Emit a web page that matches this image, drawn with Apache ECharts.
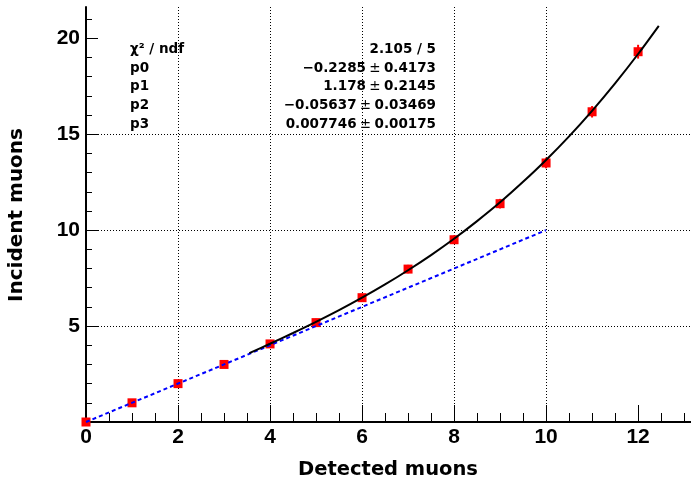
<!DOCTYPE html>
<html>
<head>
<meta charset="utf-8">
<script src="https://cdn.jsdelivr.net/npm/echarts@6/dist/echarts.min.js"></script>
<style>html,body{margin:0;padding:0;background:#fff;}#c{width:691px;height:481px;}</style>
</head>
<body>
<div id="c"></div>
<script>
// ---- data ----
const detected = [0, 1, 2, 3, 4, 5, 6, 7, 8, 9, 10, 11, 12];
const incident = [0, 1.0, 2.0, 3.0, 4.07, 5.18, 6.48, 7.97, 9.5, 11.38, 13.5, 16.17, 19.3];
const incidentErr = [0.1, 0.12, 0.15, 0.15, 0.18, 0.2, 0.2, 0.22, 0.22, 0.25, 0.28, 0.3, 0.36];
const fitX = [3.55, 4, 4.5, 5, 5.5, 6, 6.5, 7, 7.5, 8, 8.5, 9, 9.5, 10, 10.5, 11, 11.5, 12, 12.45];
const fitY = [3.59, 4.08, 4.64, 5.22, 5.83, 6.48, 7.17, 7.91, 8.70, 9.55, 10.47, 11.45, 12.52, 13.66, 14.89, 16.22, 17.65, 19.18, 20.65];
const refLineX = [0, 10];
const refLineY = [0, 10];
const xTickLabels = [0, 2, 4, 6, 8, 10, 12];
const yTickLabels = [5, 10, 15, 20];
const xMajorTicks = [0, 2, 4, 6, 8, 10, 12];
const xMinorTicks = [0, 0.5, 1, 1.5, 2, 2.5, 3, 3.5, 4, 4.5, 5, 5.5, 6, 6.5, 7, 7.5, 8, 8.5, 9, 9.5, 10, 10.5, 11, 11.5, 12, 12.5, 13];
const yMajorTicks = [0, 5, 10, 15, 20];
const yMinorTicks = [0, 1, 2, 3, 4, 5, 6, 7, 8, 9, 10, 11, 12, 13, 14, 15, 16, 17, 18, 19, 20, 21];
const statNames = ['χ² / ndf', 'p0', 'p1', 'p2', 'p3'];
const statValues = ['2.105 / 5', '−0.2285', '1.178', '−0.05637', '0.007746'];
const statErrors = ['', '0.4173', '0.2145', '0.03469', '0.00175'];
const xTitle = 'Detected muons';
const yTitle = 'Incident muons';

const XMAX = 13.15, YMAX = 21.63;

const chart = echarts.init(document.getElementById('c'), null, {renderer: 'canvas'});

const tickFont = {fontSize: 21, fontWeight: 'bold', fontFamily: 'Liberation Sans', color: '#000'};
const gridLine = {show: true, showMaxLine: false, lineStyle: {type: [1, 2], color: '#000', width: 1}};

const graphics = [];
graphics.push({type: 'text', x: 388, y: 470, style: {text: xTitle, font: 'bold 19.5px "DejaVu Sans"', fill: '#000', align: 'center', verticalAlign: 'middle'}});
graphics.push({type: 'text', x: 17, y: 215, rotation: Math.PI / 2, style: {text: yTitle, font: 'bold 20px "DejaVu Sans"', fill: '#000', align: 'center', verticalAlign: 'middle'}});
const rowY0 = 49.3, rowDy = 18.75;
statNames.forEach((n, i) => {
  graphics.push({type: 'text', x: 130, y: rowY0 + i * rowDy, style: {text: n, font: 'bold 13.5px "DejaVu Sans"', fill: '#000', align: 'left', verticalAlign: 'middle'}});
  const txt = statErrors[i] ? '{b|' + statValues[i] + '} {pm|±} {b|' + statErrors[i] + '}' : '{b|' + statValues[i] + '}';
  graphics.push({type: 'text', x: 436, y: rowY0 + i * rowDy, style: {text: txt, align: 'right', verticalAlign: 'middle',
    rich: {b: {font: 'bold 13.5px "DejaVu Sans"', fill: '#000'}, pm: {font: '13.5px "DejaVu Sans"', fill: '#000'}}}});
});

const option = {
  animation: false,
  backgroundColor: '#fff',
  grid: {left: 86, right: 0, top: 7, bottom: 59, containLabel: false},
  xAxis: [
    {type: 'value', min: 0, max: XMAX, interval: 2, position: 'bottom',
     axisLine: {show: true, onZero: false, lineStyle: {color: '#000', width: 2}},
     axisTick: {show: true, inside: true, length: 17, customValues: xMajorTicks, lineStyle: {color: '#000', width: 1}},
     axisLabel: Object.assign({margin: 5, customValues: xTickLabels, formatter: v => xTickLabels.includes(v) ? String(v) : ''}, tickFont),
     splitLine: gridLine},
    {type: 'value', min: 0, max: XMAX, interval: 0.5, position: 'bottom',
     axisLine: {show: false}, axisTick: {show: true, inside: true, length: 9, customValues: xMinorTicks, lineStyle: {color: '#000', width: 1}},
     axisLabel: {show: false}, splitLine: {show: false}},
    {type: 'value', min: 0, max: XMAX, position: 'top',
     axisLine: {show: true, lineStyle: {color: '#000', width: 2}}, axisTick: {show: false}, axisLabel: {show: false}, splitLine: {show: false}}
  ],
  yAxis: [
    {type: 'value', min: 0, max: YMAX, interval: 5, position: 'left',
     axisLine: {show: true, onZero: false, lineStyle: {color: '#000', width: 2}},
     axisTick: {show: true, inside: true, length: 12, customValues: yMajorTicks, lineStyle: {color: '#000', width: 1}},
     axisLabel: Object.assign({margin: 6, customValues: yTickLabels, formatter: v => yTickLabels.includes(v) ? String(v) : ''}, tickFont),
     splitLine: gridLine},
    {type: 'value', min: 0, max: YMAX, interval: 1, position: 'left',
     axisLine: {show: false}, axisTick: {show: true, inside: true, length: 6, customValues: yMinorTicks, lineStyle: {color: '#000', width: 1}},
     axisLabel: {show: false}, splitLine: {show: false}}
  ],
  graphic: graphics,
  series: [
    {type: 'custom', xAxisIndex: 0, yAxisIndex: 0, z: 2, clip: false,
     data: detected.map((d, i) => [d, incident[i], incidentErr[i]]),
     encode: {x: 0, y: 1},
     renderItem: (params, api) => {
       const x = api.value(0), y = api.value(1), e = api.value(2);
       const a = api.coord([x, y - e]), b = api.coord([x, y + e]);
       return {type: 'line', shape: {x1: a[0], y1: a[1], x2: b[0], y2: b[1]}, style: {stroke: '#ff0000', lineWidth: 2}};
     }},
    {type: 'scatter', xAxisIndex: 0, yAxisIndex: 0, z: 3, clip: false,
     symbol: 'rect', symbolSize: 9, itemStyle: {color: '#ff0000', opacity: 1},
     data: detected.map((d, i) => [d, incident[i]])},
    {type: 'line', xAxisIndex: 0, yAxisIndex: 0, z: 4, symbol: 'none', showSymbol: false,
     lineStyle: {color: '#0000ff', width: 2, type: [4, 3]},
     data: refLineX.map((d, i) => [d, refLineY[i]])},
    {type: 'line', xAxisIndex: 0, yAxisIndex: 0, z: 5, symbol: 'none', showSymbol: false, smooth: 0.3,
     lineStyle: {color: '#000', width: 2},
     data: fitX.map((d, i) => [d, fitY[i]])}
  ]
};
chart.setOption(option);
</script>
</body>
</html>
